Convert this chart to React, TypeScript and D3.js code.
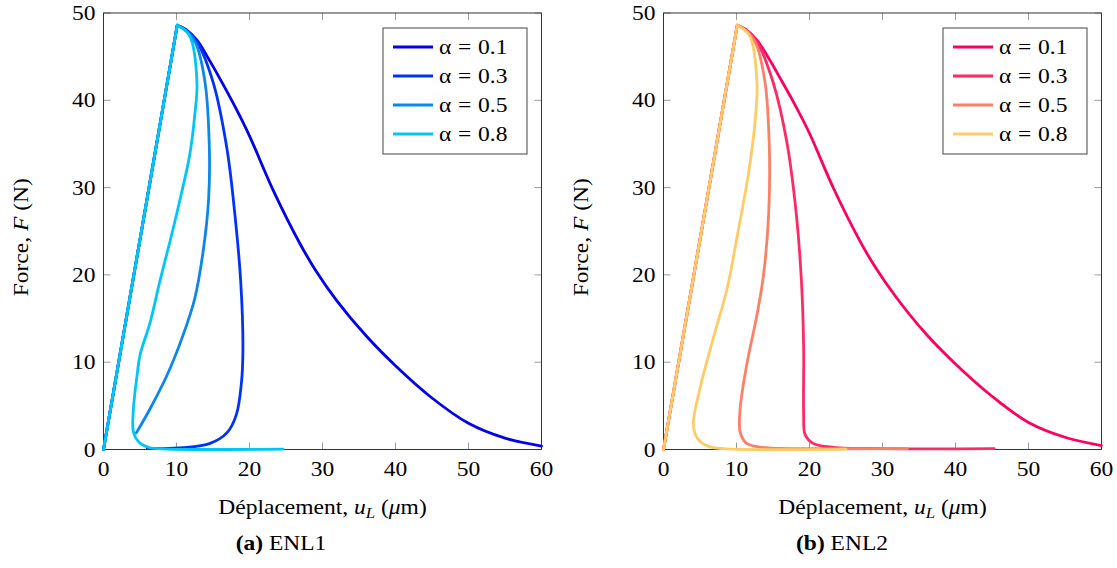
import React from "react";
import * as d3 from "d3";

// ---------- data (u_L in µm, F in N) ----------
const xTicks = [0, 10, 20, 30, 40, 50, 60];
const yTicks = [0, 10, 20, 30, 40, 50];
const legendAlphas = ["0.1", "0.3", "0.5", "0.8"];

const enl1Colors = ["#0000ee", "#0033f5", "#0a86f0", "#00c6f8"];
const enl2Colors = ["#ff0060", "#ff2a64", "#ff7f66", "#ffcb66"];

const enl1A01: [number, number][] = [
  [0, 0], [10.1, 48.6], [11.3, 48.1], [12.8, 46.9], [14.5, 44.6], [16.0, 42.4], [18.0, 39.3],
  [19.9, 36.1], [23.3, 29.6], [26.9, 23.6], [29.0, 20.6], [32.0, 17.0], [36.0, 13.0],
  [40, 9.6], [45, 5.9], [50, 3.0], [55, 1.3], [60, 0.4],
];
const enl1A03: [number, number][] = [
  [0, 0], [10.1, 48.6], [11.3, 48.1], [12.8, 46.7], [15.0, 42.1], [16.9, 34.5], [18.0, 26.9],
  [18.8, 19.2], [19.1, 11.6], [18.9, 7.7], [18.2, 4.0], [16.9, 1.9], [14.6, 0.7],
  [10.9, 0.2], [7.3, 0.1], [6.0, 0.1],
];
const enl1A05: [number, number][] = [
  [0, 0], [10.1, 48.6], [11.3, 48.0], [12.6, 46.6], [13.9, 42.1], [14.5, 34.5], [14.4, 28.7],
  [13.7, 23.0], [12.5, 17.3], [10.9, 13.1], [8.7, 8.5], [6.4, 4.7], [4.5, 1.9],
];
const enl1A08: [number, number][] = [
  [0, 0], [10.1, 48.6], [11.8, 47.4], [12.8, 42.1], [12.5, 38.3], [11.8, 33.7],
  [10.5, 28.7], [9.1, 23.8], [7.7, 19.2], [6.4, 14.6], [5.0, 10.8], [4.6, 8.5],
  [4.1, 4.7], [4.1, 2.0], [4.8, 0.9], [6.4, 0.2], [8.7, 0.05], [24.6, 0.05],
];

const enl2A01: [number, number][] = [
  [0, 0], [10.1, 48.6], [11.3, 48.1], [12.8, 46.9], [14.5, 44.7], [16.0, 42.5], [18.0, 39.5],
  [19.9, 36.4], [23.3, 29.9], [26.9, 23.9], [29.0, 20.9], [32.0, 17.3], [36.0, 13.2],
  [40, 9.8], [45, 6.1], [50, 3.1], [55, 1.4], [60, 0.45],
];
const enl2A03: [number, number][] = [
  [0, 0], [10.1, 48.6], [11.3, 48.1], [12.8, 46.7], [15.0, 42.1], [16.9, 35.2], [18.2, 26.9],
  [18.9, 19.2], [19.2, 11.6], [19.2, 4.0], [19.4, 1.7], [20.5, 0.7], [23.3, 0.25],
  [30, 0.1], [45.3, 0.1],
];
const enl2A05: [number, number][] = [
  [0, 0], [10.1, 48.6], [11.3, 48.0], [12.6, 46.6], [13.9, 42.1], [14.5, 34.5], [14.4, 26.9],
  [13.7, 20.0], [12.8, 15.4], [11.4, 9.7], [10.5, 4.7], [10.5, 2.0], [11.4, 0.7],
  [14.1, 0.2], [20, 0.1], [33.4, 0.1],
];
const enl2A08: [number, number][] = [
  [0, 0], [10.1, 48.6], [11.8, 47.4], [12.8, 42.1], [12.5, 37.2], [11.6, 31.4],
  [10.2, 24.9], [8.7, 18.4], [6.8, 12.7], [5.0, 7.0], [4.1, 2.8], [4.8, 1.1],
  [6.4, 0.3], [9.6, 0.05], [25.0, 0.05],
];

const panels = [
  { caption: "(a)", name: "ENL1", left: 103.5, series: [enl1A01, enl1A03, enl1A05, enl1A08], colors: enl1Colors, legendX: 383, centerX: 281 },
  { caption: "(b)", name: "ENL2", left: 663.5, series: [enl2A01, enl2A03, enl2A05, enl2A08], colors: enl2Colors, legendX: 943, centerX: 842 },
];

const FONT = "'Liberation Serif', 'DejaVu Serif', serif";
const PLOT_W = 438;
const TOP = 13;
const BOTTOM = 449.5;
const SX = 1.12;

function T({ x, y, anchor = "start", size = 21, rotate = 0, children }: any) {
  return (
    <text
      transform={`translate(${x},${y})${rotate ? ` rotate(${rotate})` : ""} scale(${SX},1)`}
      textAnchor={anchor}
      fontSize={size}
      fontFamily={FONT}
      fill="#000"
    >
      {children}
    </text>
  );
}

function Panel({ p }: { p: (typeof panels)[number] }) {
  const x = d3.scaleLinear().domain([0, 60]).range([p.left, p.left + PLOT_W]);
  const y = d3.scaleLinear().domain([0, 50]).range([BOTTOM, TOP]);
  const curve = d3
    .line<[number, number]>()
    .x((d) => x(d[0]))
    .y((d) => y(d[1]))
    .curve(d3.curveCatmullRom.alpha(0.5));
  const makePath = (pts: [number, number][]) => {
    const rest = curve(pts.slice(1)) || "";
    return `M${x(pts[0][0])},${y(pts[0][1])}L` + rest.slice(1);
  };
  const r = p.left + PLOT_W;
  const tick = 7;
  return (
    <g>
      {xTicks.map((t) => (
        <g key={"x" + t}>
          <line x1={x(t)} x2={x(t)} y1={BOTTOM} y2={BOTTOM - tick} stroke="#9a9a9a" />
          <line x1={x(t)} x2={x(t)} y1={TOP} y2={TOP + tick} stroke="#9a9a9a" />
          <T x={x(t)} y={BOTTOM + 26} anchor="middle">{t}</T>
        </g>
      ))}
      {yTicks.map((t) => (
        <g key={"y" + t}>
          <line x1={p.left} x2={p.left + tick} y1={y(t)} y2={y(t)} stroke="#9a9a9a" />
          <line x1={r} x2={r - tick} y1={y(t)} y2={y(t)} stroke="#9a9a9a" />
          <T x={p.left - 8} y={y(t) + 7} anchor="end">{t}</T>
        </g>
      ))}
      <rect x={p.left} y={TOP} width={PLOT_W} height={BOTTOM - TOP} fill="none" stroke="#333" strokeWidth={1} />
      {p.series.map((s, i) => (
        <path key={i} d={makePath(s)} fill="none" stroke={p.colors[i]} strokeWidth={2.8} strokeLinejoin="round" strokeLinecap="round" />
      ))}
      <g>
        <rect x={p.legendX} y={28} width={144} height={126} fill="white" stroke="#444" strokeWidth={1} />
        {legendAlphas.map((a, i) => (
          <g key={a}>
            <line x1={p.legendX + 10} x2={p.legendX + 50} y1={47 + i * 29} y2={47 + i * 29} stroke={p.colors[i]} strokeWidth={2.8} />
            <T x={p.legendX + 56} y={47 + i * 29 + 7}>
              α<tspan dx={6}>=</tspan><tspan dx={6}>{a}</tspan>
            </T>
          </g>
        ))}
      </g>
      <T x={p.left + PLOT_W / 2} y={BOTTOM + 64} anchor="middle" size={21}>
        Déplacement, <tspan fontStyle="italic">u</tspan>
        <tspan fontStyle="italic" fontSize={15} dy={4}>L</tspan>
        <tspan dy={-4}> (</tspan>
        <tspan fontStyle="italic">μ</tspan>m)
      </T>
      <T x={p.left - 76} y={(TOP + BOTTOM) / 2 + 6} anchor="middle" rotate={-90} size={21}>
        Force, <tspan fontStyle="italic">F</tspan> (N)
      </T>
      <T x={p.centerX} y={550} anchor="middle" size={21}>
        <tspan fontWeight="bold">{p.caption}</tspan> {p.name}
      </T>
    </g>
  );
}

export default function App() {
  return (
    <svg width={1117} height={568} style={{ display: "block", position: "absolute", left: 0, top: 0, background: "white" }}>
      {panels.map((p) => (
        <Panel key={p.name} p={p} />
      ))}
    </svg>
  );
}
